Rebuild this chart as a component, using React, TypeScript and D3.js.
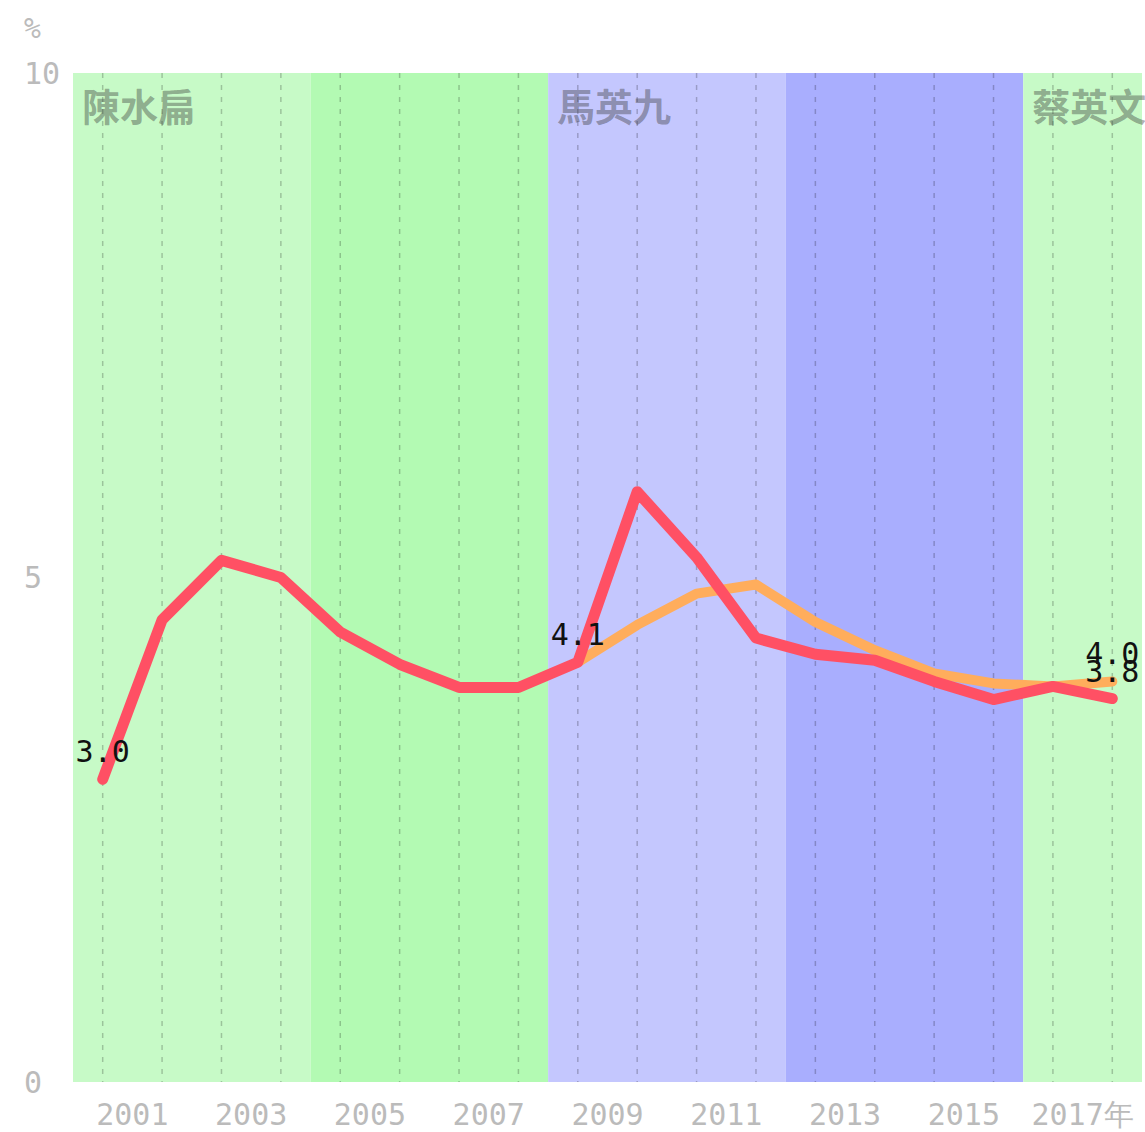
import { useEffect, useRef } from "react";
import * as d3 from "d3";

const years = [2000, 2001, 2002, 2003, 2004, 2005, 2006, 2007, 2008, 2009, 2010, 2011, 2012, 2013, 2014, 2015, 2016, 2017];
const redValues = [3.0, 4.58, 5.17, 5.0, 4.46, 4.14, 3.91, 3.91, 4.16, 5.85, 5.2, 4.4, 4.24, 4.18, 3.97, 3.79, 3.92, 3.8];
const orangeYears = [2008, 2009, 2010, 2011, 2012, 2013, 2014, 2015, 2016, 2017];
const orangeValues = [4.16, 4.53, 4.84, 4.93, 4.56, 4.28, 4.05, 3.95, 3.92, 3.97];

const terms = [
  { start: 2000, end: 2004, color: "#c7fac7", name: "陳水扁" },
  { start: 2004, end: 2008, color: "#b3fab3", name: "" },
  { start: 2008, end: 2012, color: "#c4c7fe", name: "馬英九" },
  { start: 2012, end: 2016, color: "#a9aefe", name: "" },
  { start: 2016, end: 2018, color: "#c7fac7", name: "蔡英文" },
];

const xTicks = [2001, 2003, 2005, 2007, 2009, 2011, 2013, 2015, 2017];
const yTicks = [0, 5, 10];

const pointLabels = [
  { year: 2000, value: 3.0, text: "3.0" },
  { year: 2008, value: 4.16, text: "4.1" },
  { year: 2017, value: 3.97, text: "4.0" },
  { year: 2017, value: 3.8, text: "3.8" },
];

export default function App() {
  const ref = useRef<SVGSVGElement>(null);

  useEffect(() => {
    const W = 1145;
    const H = 1132;
    const margin = { top: 73, right: 3, bottom: 50, left: 73 };
    const svg = d3.select(ref.current);
    svg.selectAll("*").remove();

    const x = d3.scaleLinear().domain([2000, 2018]).range([margin.left, W - margin.right]);
    const y = d3.scaleLinear().domain([0, 10]).range([H - margin.bottom, margin.top]);
    const mono = "'DejaVu Sans Mono', monospace";

    // term backgrounds
    svg
      .selectAll("rect.term")
      .data(terms)
      .enter()
      .append("rect")
      .attr("class", "term")
      .attr("x", (d) => x(d.start))
      .attr("y", y(10))
      .attr("width", (d) => x(d.end) - x(d.start))
      .attr("height", y(0) - y(10))
      .style("fill", (d) => d.color);

    // dashed year lines
    svg
      .selectAll("line.grid")
      .data(years)
      .enter()
      .append("line")
      .attr("class", "grid")
      .attr("x1", (d) => x(d + 0.5))
      .attr("x2", (d) => x(d + 0.5))
      .attr("y1", y(10))
      .attr("y2", y(0))
      .style("stroke", "rgba(0,0,0,0.22)")
      .style("stroke-width", 1.5)
      .style("stroke-dasharray", "5 7");

    // term names
    svg
      .selectAll("text.term")
      .data(terms.filter((d) => d.name))
      .enter()
      .append("text")
      .attr("class", "term")
      .attr("x", (d) => x(d.start) + 9)
      .attr("y", y(10) + 48)
      .style("font-family", "'Noto Sans CJK TC', sans-serif")
      .style("font-weight", 700)
      .style("font-size", "38px")
      .style("fill", "#333")
      .style("fill-opacity", 0.4)
      .text((d) => d.name);

    const line = d3
      .line<[number, number]>()
      .x((d) => x(d[0] + 0.5))
      .y((d) => y(d[1]));

    svg
      .append("path")
      .attr("d", line(orangeYears.map((yr, i) => [yr, orangeValues[i]])))
      .style("fill", "none")
      .style("stroke", "#ffad5c")
      .style("stroke-width", 10)
      .style("stroke-linecap", "round")
      .style("stroke-linejoin", "round");

    svg
      .append("path")
      .attr("d", line(years.map((yr, i) => [yr, redValues[i]])))
      .style("fill", "none")
      .style("stroke", "#ff5064")
      .style("stroke-width", 11)
      .style("stroke-linecap", "round")
      .style("stroke-linejoin", "round");

    // point labels
    svg
      .selectAll("text.pl")
      .data(pointLabels)
      .enter()
      .append("text")
      .attr("class", "pl")
      .attr("x", (d) => x(d.year + 0.5))
      .attr("y", (d) => y(d.value) - 17)
      .attr("text-anchor", "middle")
      .style("font-family", mono)
      .style("font-size", "30px")
      .style("fill", "#111")
      .text((d) => d.text);

    // y axis labels
    svg
      .selectAll("text.yt")
      .data(yTicks)
      .enter()
      .append("text")
      .attr("class", "yt")
      .attr("x", 24)
      .attr("y", (d) => y(d))
      .attr("dy", "0.35em")
      .style("font-family", mono)
      .style("font-size", "30px")
      .style("fill", "#bbb")
      .text((d) => String(d));

    svg
      .append("text")
      .attr("x", 24)
      .attr("y", 28)
      .attr("dy", "0.35em")
      .style("font-family", mono)
      .style("font-size", "28px")
      .style("fill", "#bbb")
      .text("%");

    // x axis labels
    svg
      .selectAll("text.xt")
      .data(xTicks)
      .enter()
      .append("text")
      .attr("class", "xt")
      .attr("x", (d) => x(d))
      .attr("y", 1125)
      .attr("text-anchor", "middle")
      .style("font-family", mono)
      .style("font-size", "30px")
      .style("fill", "#bbb")
      .text((d) => (d === 2017 ? "2017年" : String(d)));
  }, []);

  return (
    <svg
      ref={ref}
      width={1145}
      height={1132}
      style={{ position: "absolute", left: 0, top: 0, background: "#fff" }}
    />
  );
}
